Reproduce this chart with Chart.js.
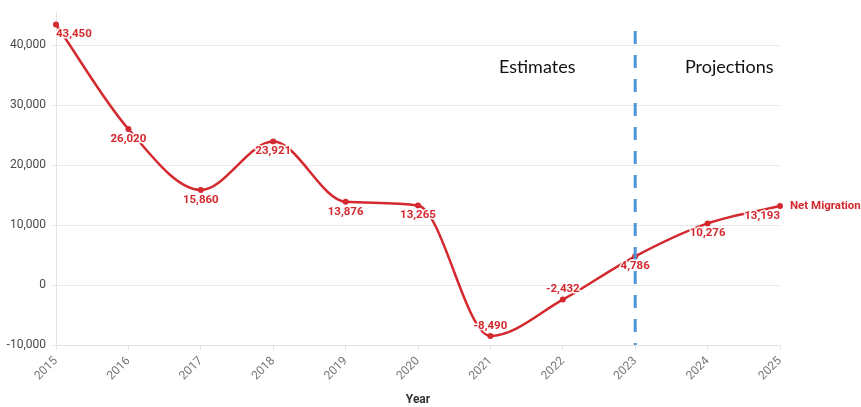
<!DOCTYPE html>
<html>
<head>
<meta charset="utf-8">
<script src="https://cdn.jsdelivr.net/npm/chart.js@4/dist/chart.umd.min.js"></script>
<style>
  html, body { margin: 0; padding: 0; background: #fff; }
  #wrap { width: 861px; height: 407px; }
</style>
</head>
<body>
<div id="wrap"><canvas id="migrationChart"></canvas></div>
<script>
// DATA
const years = ["2015","2016","2017","2018","2019","2020","2021","2022","2023","2024","2025"];
const netMigration = [43450, 26020, 15860, 23921, 13876, 13265, -8490, -2432, 4786, 10276, 13193];
const yTicks = [-10000, 0, 10000, 20000, 30000, 40000];
const seriesName = "Net Migration";
const splitYear = "2023";
const periodLabels = ["Estimates", "Projections"];

const red = "#d3292f";
const fmt = v => v.toLocaleString("en-US");

// custom drawing: value labels, series name, split line, period text
const extras = {
  id: "extras",
  afterDatasetsDraw(chart) {
    const c = chart.ctx;
    const area = chart.chartArea;
    const x = chart.scales.x;
    const meta = chart.getDatasetMeta(0);

    // dashed split line
    let sx = x.getPixelForValue(years.indexOf(splitYear));
    c.save();
    c.strokeStyle = "#4f96d8";
    c.lineWidth = 3;
    c.setLineDash([13, 11]);
    c.beginPath();
    c.moveTo(sx, 31);
    c.lineTo(sx, area.bottom);
    c.stroke();
    c.restore();

    // period text
    c.save();
    c.font = "18px Lato";
    c.fillStyle = "#111";
    c.textAlign = "center";
    c.textBaseline = "middle";
    c.fillText(periodLabels[0], sx - 98, 67);
    c.fillText(periodLabels[1], sx + 94, 67);
    c.restore();

    // value labels
    c.save();
    c.font = "bold 11.5px Roboto";
    c.textBaseline = "middle";
    c.textAlign = "center";
    c.lineJoin = "round";
    meta.data.forEach((pt, i) => {
      let v = netMigration[i];
      let txt = fmt(v);
      let w = c.measureText(txt).width;
      let cx = pt.x;
      if (cx - w / 2 < area.left) cx = area.left + w / 2;
      if (cx + w / 2 > area.right) cx = area.right - w / 2;
      let cy = v < 0 ? pt.y - 10 : pt.y + 10;
      c.strokeStyle = "rgba(255,255,255,0.9)";
      c.lineWidth = 3;
      c.strokeText(txt, cx, cy);
      c.fillStyle = red;
      c.fillText(txt, cx, cy);
    });

    // series name at end of line
    let last = meta.data[meta.data.length - 1];
    c.textAlign = "left";
    c.fillText(seriesName, last.x + 10, last.y);
    c.restore();
  }
};

let ctx = document.getElementById("migrationChart");

let chart = new Chart(ctx, {
  type: "line",
  data: {
    labels: years,
    datasets: [{
      label: seriesName,
      data: netMigration,
      borderColor: red,
      backgroundColor: red,
      borderWidth: 2.5,
      pointRadius: 3,
      pointBorderWidth: 0,
      pointHoverRadius: 3,
      cubicInterpolationMode: "monotone",
      fill: false
    }]
  },
  options: {
    responsive: true,
    maintainAspectRatio: false,
    animation: false,
    layout: { padding: { top: 6, right: 81, bottom: 0, left: 0 } },
    plugins: {
      legend: { display: false },
      tooltip: { enabled: false }
    },
    scales: {
      x: {
        offset: false,
        grid: {
          drawOnChartArea: false,
          drawTicks: true,
          tickLength: 5,
          color: "#e3e3e3"
        },
        border: { color: "#e3e3e3" },
        ticks: {
          color: "#777",
          font: { family: "Roboto", size: 12 },
          minRotation: 45,
          maxRotation: 45,
          padding: 4
        },
        title: {
          display: true,
          text: "Year",
          color: "#333",
          font: { family: "Roboto", size: 12, weight: "bold" },
          padding: { top: 0, bottom: 0 }
        },
        afterFit(scale) { scale.height = 62; }
      },
      y: {
        min: -10000,
        max: 45500,
        afterBuildTicks(scale) {
          scale.ticks = yTicks.map(v => ({ value: v }));
        },
        grid: {
          color: "#e9e9e9",
          tickLength: 5
        },
        border: { color: "#e3e3e3" },
        ticks: {
          color: "#4a4a4a",
          font: { family: "Roboto", size: 12 },
          padding: 5,
          callback: v => fmt(v)
        },
        afterFit(scale) { scale.width = 56; }
      }
    }
  },
  plugins: [extras]
});
</script>
</body>
</html>
